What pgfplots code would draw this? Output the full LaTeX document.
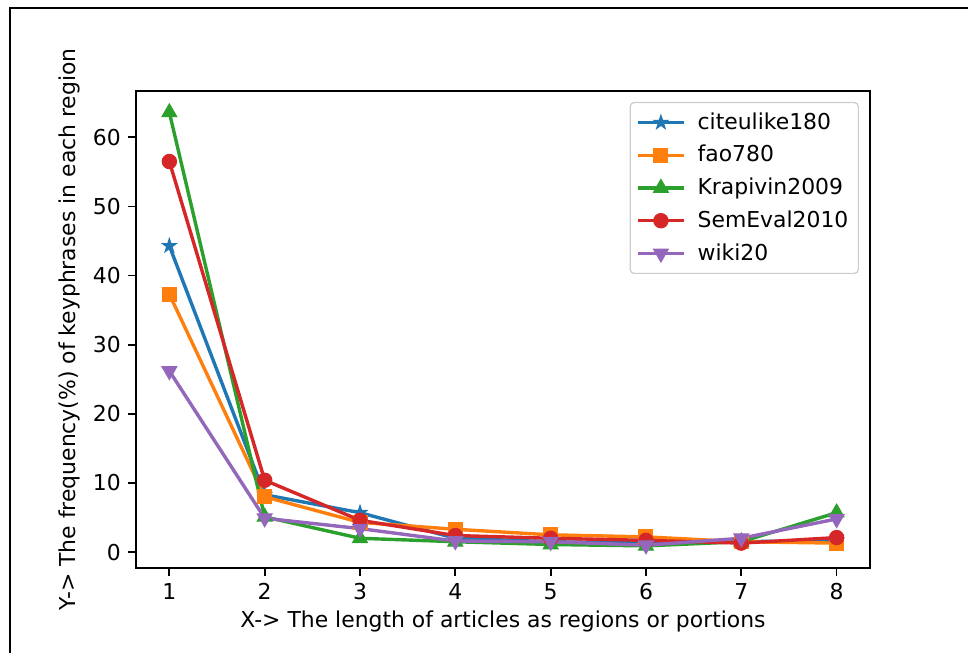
\documentclass[border=0pt]{standalone}
\usepackage{pgfplots}
\pgfplotsset{compat=1.18}
\usepackage{fontspec}
\setmainfont{DejaVu Sans}
\definecolor{c1}{HTML}{1F77B4}
\definecolor{c2}{HTML}{FF7F0E}
\definecolor{c3}{HTML}{2CA02C}
\definecolor{c4}{HTML}{D62728}
\definecolor{c5}{HTML}{9467BD}
\pgfdeclareplotmark{fstar}{%
\pgfpathmoveto{\pgfpointpolar{90}{\pgfplotmarksize}}%
\pgfpathlineto{\pgfpointpolar{126}{0.382\pgfplotmarksize}}%
\pgfpathlineto{\pgfpointpolar{162}{\pgfplotmarksize}}%
\pgfpathlineto{\pgfpointpolar{198}{0.382\pgfplotmarksize}}%
\pgfpathlineto{\pgfpointpolar{234}{\pgfplotmarksize}}%
\pgfpathlineto{\pgfpointpolar{270}{0.382\pgfplotmarksize}}%
\pgfpathlineto{\pgfpointpolar{306}{\pgfplotmarksize}}%
\pgfpathlineto{\pgfpointpolar{342}{0.382\pgfplotmarksize}}%
\pgfpathlineto{\pgfpointpolar{18}{\pgfplotmarksize}}%
\pgfpathlineto{\pgfpointpolar{54}{0.382\pgfplotmarksize}}%
\pgfpathclose\pgfusepathqfillstroke}
\begin{document}
\fontsize{10.95}{13}\selectfont
\begin{tikzpicture}
\path[use as bounding box] (0,0) rectangle (484pt,326.5pt);
\draw[line width=0.6pt] (484pt,322.5pt) -- (5pt,322.5pt) -- (5pt,0pt);
\begin{axis}[
  at={(68pt,42.5pt)}, anchor=south west,
  scale only axis, width=367pt, height=238.5pt,
  xmin=0.65, xmax=8.35, ymin=-2.3, ymax=66.7,
  xtick={1,2,3,4,5,6,7,8}, ytick={0,10,20,30,40,50,60},
  xtick pos=bottom, ytick pos=left, tick align=outside,
  major tick length=3.8pt,
  every tick/.style={black, line width=0.87pt},
  axis line style={line width=0.87pt},
  /pgf/number format/assume math mode=true,
  ticklabel style={font=\fontsize{10.95}{13}\selectfont},
  xlabel={X-> The length of articles as regions or portions},
  ylabel={Y-> The frequency(\%) of keyphrases in each region},
  every axis x label/.style={at={(axis description cs:0.5,-0.113)}, anchor=center},
  every axis y label/.style={at={(axis description cs:-0.09,0.5)}, anchor=center, rotate=90},
  legend cell align=left,
  legend style={at={(axis description cs:0.985,0.977)}, anchor=north east,
    draw=black!20, rounded corners=2pt, line width=0.6pt,
    row sep=2.4pt, column sep=4pt, inner xsep=3pt, inner ysep=3pt,
    font=\fontsize{10.95}{13}\selectfont},
  legend image code/.code={\draw[mark repeat=2,mark phase=2] plot coordinates {(0pt,0pt)(11.5pt,0pt)(23pt,0pt)};},
  every axis plot/.append style={line width=1.7pt, mark size=3.6pt},
]
\addplot[c1, mark=fstar, mark options={fill=c1, line width=0.5pt, mark size=3.7pt}] coordinates {(1,44.3)(2,8.3)(3,5.7)(4,2.0)(5,1.5)(6,1.3)(7,1.5)(8,1.7)};
\addlegendentry{citeulike180}
\addplot[c2, mark=square*, mark options={fill=c2, line width=0.5pt, mark size=3.5pt}] coordinates {(1,37.3)(2,8.0)(3,4.3)(4,3.3)(5,2.5)(6,2.2)(7,1.5)(8,1.3)};
\addlegendentry{fao780}
\addplot[c3, mark=triangle*, mark options={fill=c3, line width=0.5pt, mark size=4.3pt}] coordinates {(1,63.6)(2,5.1)(3,2.0)(4,1.5)(5,1.1)(6,0.9)(7,1.5)(8,5.7)};
\addlegendentry{Krapivin2009}
\addplot[c4, mark=*, mark options={fill=c4, line width=0.5pt}] coordinates {(1,56.5)(2,10.4)(3,4.6)(4,2.4)(5,2.0)(6,1.7)(7,1.3)(8,2.1)};
\addlegendentry{SemEval2010}
\addplot[c5, mark=triangle*, mark options={fill=c5, line width=0.5pt, rotate=180, mark size=4.3pt}] coordinates {(1,26.2)(2,4.9)(3,3.4)(4,1.6)(5,1.5)(6,1.0)(7,2.0)(8,4.8)};
\addlegendentry{wiki20}
\end{axis}
\end{tikzpicture}
\end{document}
